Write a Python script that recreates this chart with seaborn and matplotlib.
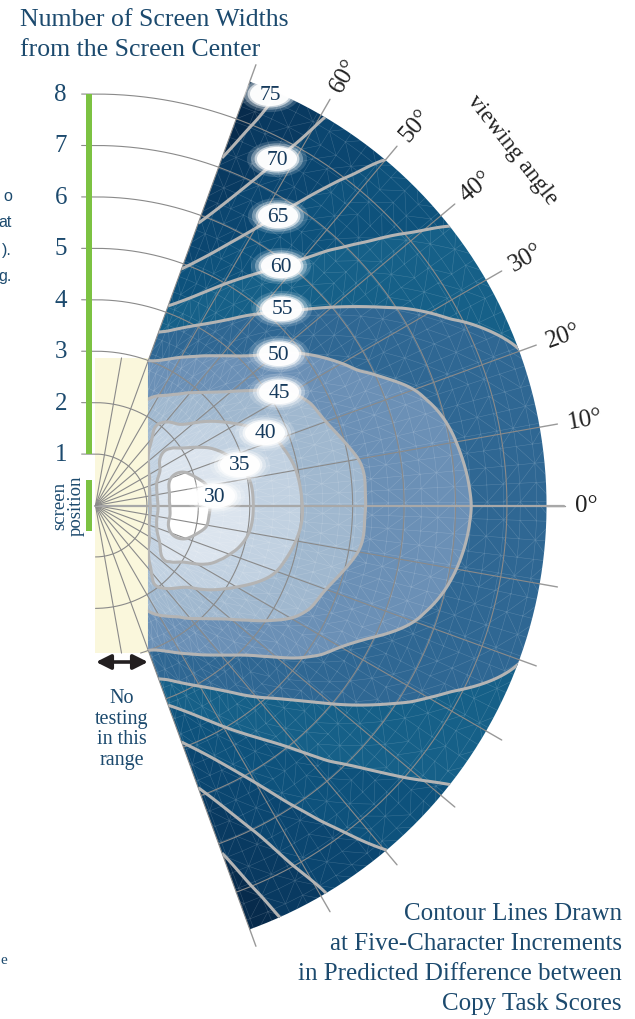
import numpy as np
import matplotlib
matplotlib.use("Agg")
import matplotlib.pyplot as plt
import matplotlib.tri as mtri
from matplotlib.patches import Rectangle, Ellipse, PathPatch
from matplotlib.path import Path
import seaborn as sns

# ---------------------------------------------------------------- data
# viewing angle (deg, symmetric about the screen normal) and distance
# from the screen centre (in screen widths)
viewing_angles = [0, 10, 20, 30, 40, 50, 60, 70]
distances = [1, 1.25, 1.5, 2, 2.5, 3, 4, 5, 6, 7, 8, 9]

# predicted difference between copy task scores (characters)
score_difference = [
    [42.5, 34.0, 29.4, 28.8, 31.6, 34.6, 39.9, 44.1, 46.9, 49.3, 51.4, 53.2],  # 0
    [43.0, 34.0, 29.6, 29.1, 31.6, 34.8, 40.2, 44.3, 47.3, 49.7, 52.0, 54.0],  # 10
    [44.0, 35.5, 30.5, 30.8, 33.5, 36.3, 41.3, 46.0, 48.6, 51.0, 53.2, 55.5],  # 20
    [45.0, 39.0, 34.2, 33.8, 36.0, 39.0, 43.5, 47.7, 51.6, 53.8, 56.2, 57.6],  # 30
    [46.0, 42.0, 37.0, 37.0, 40.0, 42.8, 47.5, 51.7, 55.0, 57.6, 59.5, 61.0],  # 40
    [46.0, 45.0, 42.0, 39.5, 42.8, 45.7, 51.1, 55.6, 59.3, 61.7, 63.7, 65.5],  # 50
    [46.0, 46.0, 44.0, 42.0, 45.3, 48.2, 54.6, 60.2, 64.3, 67.1, 69.2, 70.7],  # 60
    [48.0, 47.0, 47.0, 47.0, 48.5, 50.0, 58.9, 65.6, 70.7, 74.4, 77.0, 79.0],  # 70
]

contour_levels = [30, 35, 40, 45, 50, 55, 60, 65, 70, 75]
angle_ticks = [0, 10, 20, 30, 40, 50, 60]
distance_ticks = [1, 2, 3, 4, 5, 6, 7, 8]

# ---------------------------------------------------------------- style
sns.set_theme(style="white")
plt.rcParams["font.family"] = ["Liberation Serif", "DejaVu Serif"]

NAVY = "#1c4a6e"
LABEL_NAVY = "#163a5c"
GRID = "#8a8a8a"
CONTOUR = "#b4b4b4"
band_colors = ["#ffffff", "#dbe4ee", "#c1d1e1", "#a0b8cf", "#6b90b6",
               "#2f6793", "#166088", "#0e527c", "#0b4670", "#093a61", "#072b4c"]

W, H = 635, 1020
UNIT = 51.43          # pixels per screen width
OX, OY = 95.5, 506.5  # screen centre in pixels


def P(xp, yp):
    """pixel position -> data coordinates (screen widths)"""
    return (xp - OX) / UNIT, (OY - yp) / UNIT


fig = plt.figure(figsize=(W / 100, H / 100), dpi=100)
ax = fig.add_axes([0, 0, 1, 1])
ax.set_xlim(-OX / UNIT, (W - OX) / UNIT)
ax.set_ylim((OY - H) / UNIT, OY / UNIT)
ax.axis("off")

TH = np.radians(70)     # half opening of the tested fan
R_OUT = 8.77            # outer radius of the fan
X_MIN = 1.02            # closest tested distance along the normal
Y_NT = 2.87             # half height of the untested strip

# untested strip
ax.add_patch(Rectangle((0, -Y_NT), X_MIN, 2 * Y_NT, fc="#faf7dc", ec="none", zorder=1))

# fan outline used for clipping
arc_t = np.linspace(TH, -TH, 300)
verts = [(X_MIN, -X_MIN * np.tan(TH)), (X_MIN, X_MIN * np.tan(TH))]
verts += [(R_OUT * np.cos(a), R_OUT * np.sin(a)) for a in arc_t]
verts += [(X_MIN, -X_MIN * np.tan(TH))]
fan_patch = PathPatch(Path(verts), fc="none", ec="none", transform=ax.transData)
ax.add_patch(fan_patch)

# ---------------------------------------------------------------- field
# smooth interpolation on the (angle, distance) grid, then mapped to the plane
ang = np.array(viewing_angles, dtype=float)
dist = np.array(distances, dtype=float)
vals = np.array(score_difference, dtype=float)
full_ang = np.concatenate([-ang[:0:-1], ang])
full_vals = np.vstack([vals[:0:-1], vals])
UA, VD = np.meshgrid(full_ang / 10.0, dist, indexing="ij")
gz = full_vals.ravel()

ptri = mtri.Triangulation(UA.ravel(), VD.ravel())
interp = mtri.CubicTriInterpolator(ptri, gz, kind="min_E")
ref_tri, z_f = mtri.UniformTriRefiner(ptri).refine_field(gz, triinterpolator=interp, subdiv=4)
th_f = np.radians(ref_tri.x * 10.0)
tri_f = mtri.Triangulation(ref_tri.y * np.cos(th_f), ref_tri.y * np.sin(th_f), ref_tri.triangles)

fill_levels = [0] + contour_levels + [200]
cf = ax.tricontourf(tri_f, z_f, levels=fill_levels, colors=band_colors, zorder=2)
cf.set_clip_path(fan_patch)

# fine mesh texture over the fan
mr = np.arange(0.9, 9.2, 0.32)
mt = np.radians(np.arange(-72, 72.1, 2.5))
MT, MR = np.meshgrid(mt, mr)
mesh = mtri.Triangulation((MR * np.cos(MT)).ravel(), (MR * np.sin(MT)).ravel())
for ln in ax.triplot(mesh, color="white", lw=0.35, alpha=0.2, zorder=2.5):
    ln.set_clip_path(fan_patch)

# ---------------------------------------------------------------- grid
for r in distance_ticks:
    a = np.radians(np.linspace(90, -90, 1441))
    x = r * np.cos(a)
    y = r * np.sin(a)
    in_strip = (x <= X_MIN + 1e-6) & (np.abs(y) <= Y_NT)
    in_fan = (np.abs(a) <= TH + 1e-9) & (x >= X_MIN) & (r <= R_OUT)
    upper = a >= TH
    keep = in_strip | in_fan | upper
    x = np.where(keep, x, np.nan)
    y = np.where(keep, y, np.nan)
    ax.plot(np.r_[-0.27, x], np.r_[r, y], color=GRID, lw=0.8, zorder=3)

for deg in range(-80, 81, 10):
    a = np.radians(deg)
    if abs(deg) <= 70:
        r_end = R_OUT
        ax.plot([R_OUT * np.cos(a), 9.12 * np.cos(a)], [R_OUT * np.sin(a), 9.12 * np.sin(a)],
                color="#999999", lw=1.0, zorder=3)
    else:
        r_end = Y_NT / abs(np.sin(a))
    if deg == 0:
        ax.plot([0, 9.1], [0, 0], color="#a8a8a8", lw=1.6, zorder=3)
    else:
        ax.plot([0, r_end * np.cos(a)], [0, r_end * np.sin(a)], color=GRID, lw=0.8, zorder=3)

# contour lines
cl = ax.tricontour(tri_f, z_f, levels=contour_levels, colors=CONTOUR, linewidths=2.2, zorder=4)
cl.set_clip_path(fan_patch)

# contour labels in soft white bubbles
label_px = [(215, 497), (240, 466), (265, 434), (279, 393), (279, 355),
            (282, 310), (281, 267), (278, 217), (277, 160), (270, 95)]
for lvl, (lx, ly) in zip(contour_levels, label_px):
    cx, cy = P(lx, ly)
    for s, al in [(1.5, 0.16), (1.3, 0.32), (1.12, 0.6), (1.0, 0.95)]:
        ax.add_patch(Ellipse((cx, cy), 0.78 * s, 0.47 * s, fc="white", ec="none",
                             alpha=al, zorder=5))
    ax.text(cx, cy, str(lvl), ha="center", va="center", fontsize=15.5,
            color=LABEL_NAVY, zorder=6)

# viewing-angle labels
for deg in angle_ticks:
    a = np.radians(deg)
    ax.text(9.33 * np.cos(a), 9.33 * np.sin(a), f"{deg}°", rotation=deg,
            rotation_mode="anchor", ha="left", va="center", fontsize=18,
            color="#222222", zorder=6)
ax.text(*P(512, 150), "viewing angle", rotation=-52, ha="center", va="center",
        fontsize=17, color="#222222", zorder=6)

# ---------------------------------------------------------------- distance axis
ax.add_patch(Rectangle((-0.185, 1), 0.117, 7, fc="#7cc242", ec="none", zorder=3))
ax.add_patch(Rectangle((-0.185, -0.5), 0.117, 1, fc="#7cc242", ec="none", zorder=3))
for r in distance_ticks:
    ax.text(P(67, 0)[0], r, str(r), ha="right", va="center", fontsize=18,
            color=NAVY, zorder=6)
ax.text(*P(68, 506), "screen\nposition", rotation=90, ha="center", va="center",
        fontsize=13.5, linespacing=1.0, color=NAVY, zorder=6)

ax.text(*P(20, 9), "Number of Screen Widths\nfrom the Screen Center", ha="left",
        va="top", fontsize=18.5, linespacing=1.45, color=NAVY)

# untested range marker
ax.annotate("", xy=P(148, 663), xytext=P(96, 663),
            arrowprops=dict(arrowstyle="<|-|>", color="#231f20", lw=2.6,
                            mutation_scale=22, shrinkA=0, shrinkB=0), zorder=6)
ax.text(*P(121.5, 689), "No\ntesting\nin this\nrange", ha="center", va="top",
        multialignment="center", fontsize=14.5, linespacing=1.12, color=NAVY)

ax.text(*P(622, 903), "Contour Lines Drawn\nat Five-Character Increments\n"
        "in Predicted Difference between\nCopy Task Scores", ha="right", va="top",
        multialignment="right", fontsize=18, linespacing=1.47, color=NAVY)

# text running in from the neighbouring column
for s, yy in [("o", 196), ("at", 222), (").", 250), ("g.", 276)]:
    ax.text(*P(12, yy), s, ha="right", va="center", fontsize=11.5,
            family=["Liberation Sans", "DejaVu Sans"], color=NAVY)
ax.text(*P(0, 960), "e", ha="left", va="center", fontsize=11, color=NAVY)

fig.savefig("out.png", dpi=100)
